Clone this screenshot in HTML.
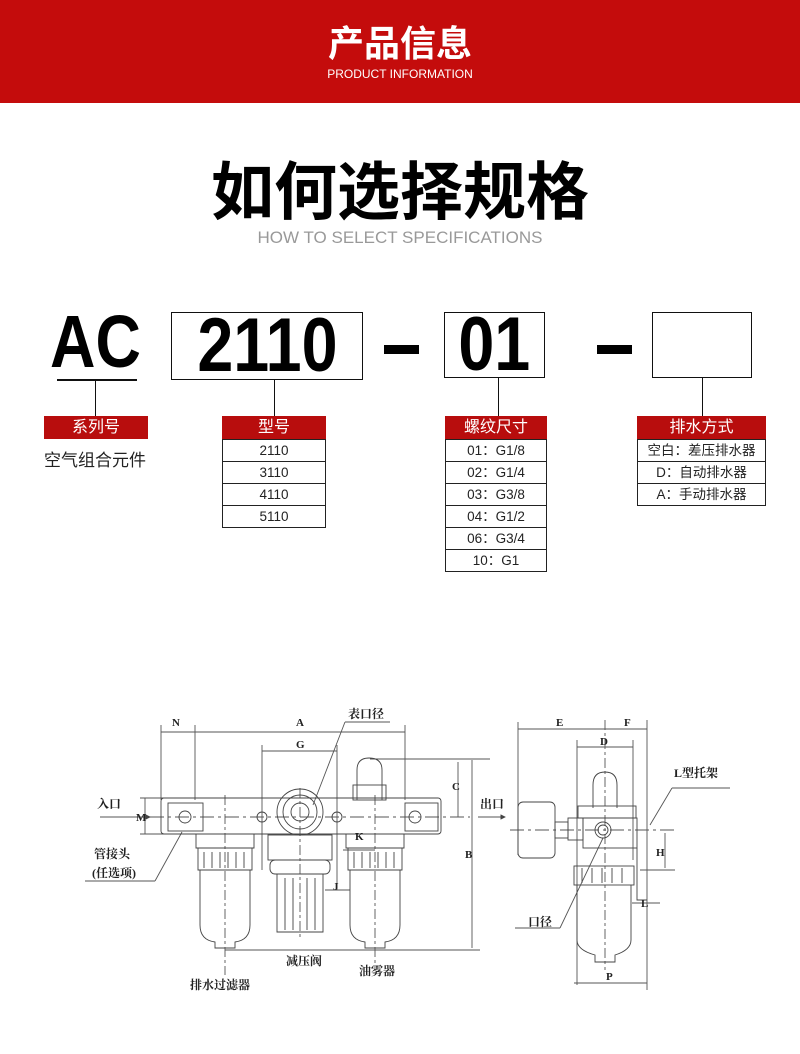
<!DOCTYPE html>
<html><head><meta charset="utf-8"><style>
*{margin:0;padding:0;box-sizing:border-box}
body{width:800px;height:1054px;background:#fff;position:relative;overflow:hidden;font-family:"Liberation Sans","Noto Sans CJK SC",sans-serif}
.a{position:absolute}
.hdr{left:0;top:0;width:800px;height:103px;background:#c40c0c}
.box{border:1.5px solid #111}
.red{background:#b80d0d;color:#fff;text-align:center;font-size:16px;line-height:23px}
.tb{border:1px solid #222;border-top:none}
.tb div{border-top:1px solid #222;text-align:center;font-size:13.5px;color:#222;height:22px;line-height:21px}
.big{font-weight:bold;display:inline-block;transform:scaleX(0.85);transform-origin:center}
</style></head><body>
<div class="a hdr"></div>
<div class="a" style="left:0;top:22px;width:800px;text-align:center;color:#fff;font-size:36px;font-weight:bold;line-height:44px">产品信息</div>
<div class="a" style="left:0;top:67px;width:800px;text-align:center;color:#fff;font-size:12px">PRODUCT INFORMATION</div>
<div class="a" style="left:0;top:156px;width:800px;text-align:center;color:#000;font-size:63px;font-weight:bold;line-height:74px">如何选择规格</div>
<div class="a" style="left:0;top:228px;width:800px;text-align:center;color:#999;font-size:17px">HOW TO SELECT SPECIFICATIONS</div>

<div class="a" style="left:40px;top:300px;width:110px;text-align:center;font-size:74px;line-height:84px"><span class="big">AC</span></div>
<div class="a" style="left:57px;top:379px;width:80px;height:1.5px;background:#111"></div>
<div class="a box" style="left:171px;top:312px;width:192px;height:68px;text-align:center;font-size:76px;line-height:66px"><span class="big">2110</span></div>
<div class="a" style="left:384px;top:345px;width:35px;height:9px;background:#000"></div>
<div class="a box" style="left:444px;top:312px;width:101px;height:66px;text-align:center;font-size:76px;line-height:64px"><span class="big">01</span></div>
<div class="a" style="left:597px;top:345px;width:35px;height:9px;background:#000"></div>
<div class="a box" style="left:652px;top:312px;width:100px;height:66px"></div>
<div class="a" style="left:95px;top:380px;width:1px;height:36px;background:#111"></div>
<div class="a" style="left:274px;top:380px;width:1px;height:36px;background:#111"></div>
<div class="a" style="left:498px;top:378px;width:1px;height:38px;background:#111"></div>
<div class="a" style="left:702px;top:378px;width:1px;height:38px;background:#111"></div>

<div class="a red" style="left:44px;top:416px;width:104px">系列号</div>
<div class="a" style="left:44px;top:446px;font-size:17px;color:#222">空气组合元件</div>
<div class="a red" style="left:222px;top:416px;width:104px">型号</div>
<div class="a tb" style="left:222px;top:439px;width:104px"><div>2110</div><div>3110</div><div>4110</div><div>5110</div></div>
<div class="a red" style="left:445px;top:416px;width:102px">螺纹尺寸</div>
<div class="a tb" style="left:445px;top:439px;width:102px"><div>01：G1/8</div><div>02：G1/4</div><div>03：G3/8</div><div>04：G1/2</div><div>06：G3/4</div><div>10：G1</div></div>
<div class="a red" style="left:637px;top:416px;width:129px">排水方式</div>
<div class="a tb" style="left:637px;top:439px;width:129px"><div>空白：差压排水器</div><div>D：自动排水器</div><div>A：手动排水器</div></div>

<svg class="a" style="left:0;top:0" width="800" height="1054" font-family="Liberation Serif,Noto Serif CJK SC,serif" font-size="11" fill="none" stroke="#444" stroke-width="0.9">
<defs><marker id="ar" markerWidth="6" markerHeight="6" refX="5" refY="3" orient="auto"><path d="M0 0L6 3L0 6z" fill="#444" stroke="none"/></marker></defs>
<g stroke="#555">
<line x1="161" y1="725" x2="161" y2="800"/><line x1="195" y1="725" x2="195" y2="800"/><line x1="405" y1="725" x2="405" y2="800"/>
<line x1="161" y1="732" x2="195" y2="732"/><line x1="195" y1="732" x2="405" y2="732"/>
<line x1="262" y1="745" x2="262" y2="870"/><line x1="337" y1="745" x2="337" y2="890"/><line x1="262" y1="751" x2="337" y2="751"/>
<line x1="100" y1="817" x2="470" y2="817" stroke-dasharray="14 4 3 4"/>
<line x1="145" y1="798" x2="145" y2="834"/><line x1="140" y1="798" x2="165" y2="798"/><line x1="140" y1="834" x2="165" y2="834"/>
<line x1="100" y1="817" x2="150" y2="817" marker-end="url(#ar)"/>
<line x1="478" y1="817" x2="505" y2="817" marker-end="url(#ar)"/>
<line x1="370" y1="759" x2="490" y2="759"/><line x1="458" y1="762" x2="458" y2="817"/><line x1="472" y1="760" x2="472" y2="948"/>
<line x1="225" y1="950" x2="480" y2="950"/>
<line x1="345" y1="722" x2="313" y2="805"/><line x1="345" y1="722" x2="390" y2="722"/>
<line x1="85" y1="881" x2="155" y2="881"/><line x1="155" y1="881" x2="182" y2="832"/>
<line x1="225" y1="795" x2="225" y2="975" stroke-dasharray="10 3 3 3"/>
<line x1="300" y1="788" x2="300" y2="940" stroke-dasharray="10 3 3 3"/>
<line x1="375" y1="795" x2="375" y2="965" stroke-dasharray="10 3 3 3"/>
<line x1="343" y1="850" x2="375" y2="850"/><line x1="325" y1="890" x2="350" y2="890"/>
</g>
<rect x="161" y="798" width="280" height="36" rx="3"/>
<rect x="168" y="803" width="35" height="28"/><rect x="405" y="803" width="33" height="28"/>
<circle cx="185" cy="817" r="6"/><circle cx="415" cy="817" r="6"/><circle cx="262" cy="817" r="5"/><circle cx="337" cy="817" r="5"/>
<path d="M196 834 V848 H254 V834"/><path d="M346 834 V848 H404 V834"/>
<path d="M198 848 h54 v22 h-54z"/><path d="M348 848 h54 v22 h-54z"/>
<path d="M204 852v16M212 852v16M220 852v16M228 852v16M236 852v16M244 852v16M354 852v16M362 852v16M370 852v16M378 852v16M386 852v16M394 852v16"/>
<path d="M200 870 V925 Q200 940 215 942 V948 H235 V942 Q250 940 250 925 V870"/>
<path d="M350 870 V925 Q350 940 365 942 V948 H385 V942 Q400 940 400 925 V870"/>
<circle cx="300" cy="812" r="23"/><circle cx="300" cy="812" r="17"/><circle cx="300" cy="812" r="9"/>
<rect x="268" y="835" width="64" height="25"/><rect x="270" y="860" width="60" height="14" rx="5"/>
<path d="M277 874 V932 H323 V874"/><path d="M285 878v52M293 878v52M307 878v52M315 878v52"/>
<path d="M357 800 V770 Q357 758 369 758 Q382 758 382 770 V800"/><rect x="353" y="785" width="33" height="15"/>
<g stroke="#555">
<line x1="518" y1="722" x2="518" y2="855"/><line x1="647" y1="720" x2="647" y2="990"/><line x1="605" y1="720" x2="605" y2="970" stroke-dasharray="10 3 3 3"/>
<line x1="518" y1="729" x2="647" y2="729"/><line x1="577" y1="740" x2="577" y2="985"/><line x1="633" y1="740" x2="633" y2="860"/>
<line x1="577" y1="747" x2="633" y2="747"/><line x1="574" y1="983" x2="647" y2="983"/>
<line x1="510" y1="830" x2="675" y2="830" stroke-dasharray="14 4 3 4"/>
<line x1="640" y1="870" x2="675" y2="870"/><line x1="665" y1="833" x2="665" y2="868"/>
<line x1="632" y1="903" x2="660" y2="903"/>
<line x1="650" y1="825" x2="672" y2="788"/><line x1="672" y1="788" x2="730" y2="788"/>
<line x1="515" y1="928" x2="560" y2="928"/><line x1="560" y1="928" x2="603" y2="838"/>
</g>
<rect x="518" y="802" width="37" height="56" rx="5"/>
<rect x="555" y="822" width="13" height="16"/><rect x="568" y="818" width="15" height="22"/>
<rect x="583" y="818" width="54" height="30"/><circle cx="603" cy="830" r="8"/><circle cx="603" cy="830" r="5"/>
<path d="M593 808 V785 Q593 772 605 772 Q617 772 617 785 V808"/><rect x="578" y="806" width="58" height="12"/>
<rect x="574" y="866" width="60" height="19"/><path d="M582 868v15M592 868v15M602 868v15M612 868v15M622 868v15"/>
<path d="M577 885 V940 Q577 950 595 955 V962 H615 V955 Q631 950 631 940 V885"/>
<path d="M637 848 V900 H647"/>
<g fill="#222" stroke="none" font-size="11" font-weight="bold">
<text x="172" y="726">N</text><text x="296" y="726">A</text><text x="296" y="748">G</text>
<text x="348" y="718" font-size="12">表口径</text>
<text x="97" y="808" font-size="12">入口</text><text x="480" y="808" font-size="12">出口</text>
<text x="136" y="821">M</text><text x="452" y="790">C</text><text x="465" y="858">B</text>
<text x="355" y="840">K</text><text x="333" y="890">J</text>
<text x="94" y="858" font-size="12">管接头</text><text x="92" y="877" font-size="12">(任选项)</text>
<text x="286" y="965" font-size="12">减压阀</text><text x="359" y="975" font-size="12">油雾器</text><text x="190" y="989" font-size="12">排水过滤器</text>
<text x="556" y="726">E</text><text x="624" y="726">F</text><text x="600" y="745">D</text>
<text x="674" y="777" font-size="12">L型托架</text><text x="656" y="856">H</text><text x="641" y="907">L</text>
<text x="606" y="980">P</text><text x="528" y="926" font-size="12">口径</text>
</g>
</svg>
</body></html>
